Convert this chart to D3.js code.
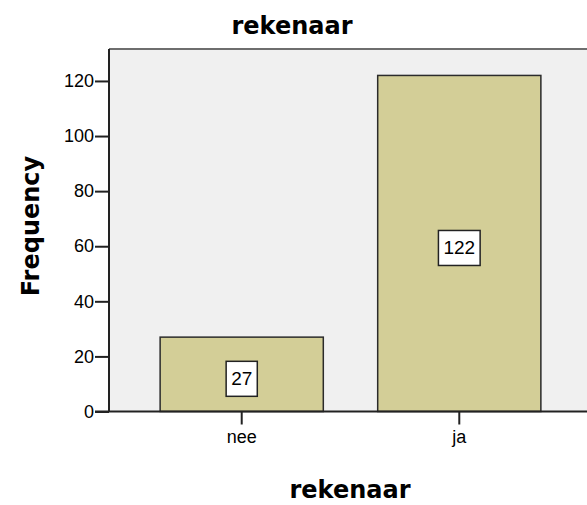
<!DOCTYPE html>
<html>
<head>
<meta charset="utf-8">
<script src="https://cdn.jsdelivr.net/npm/d3@7"></script>
<style>
  html, body { margin: 0; padding: 0; background: #fff; }
  svg { display: block; }
</style>
</head>
<body>
<svg id="chart" width="587" height="505"></svg>
<script>
// ---- data ----
const categories = ["nee", "ja"];
const frequencies = [27, 122];
const yTicks = [0, 20, 40, 60, 80, 100, 120];
const chartTitle = "rekenaar";
const xTitle = "rekenaar";
const yTitle = "Frequency";

// ---- layout ----
const W = 587, H = 505;
const plot = { left: 109, right: 592, top: 49, bottom: 411.5 };
const svg = d3.select("#chart");

const x = d3.scaleBand()
  .domain(categories)
  .range([plot.left, plot.right])
  .paddingInner(0.25)
  .paddingOuter(0.235);

const y = d3.scaleLinear()
  .domain([0, 131.6])
  .range([plot.bottom, plot.top]);

// plot background
svg.append("rect")
  .attr("x", plot.left).attr("y", plot.top)
  .attr("width", plot.right - plot.left).attr("height", plot.bottom - plot.top)
  .attr("fill", "#f0f0f0");

// top frame line
svg.append("line")
  .attr("x1", plot.left).attr("x2", plot.right)
  .attr("y1", plot.top).attr("y2", plot.top)
  .attr("stroke", "#6e6e6e").attr("stroke-width", 2);

// bars
svg.append("g").selectAll("rect")
  .data(categories)
  .join("rect")
  .attr("x", d => x(d))
  .attr("y", (d, i) => y(frequencies[i]))
  .attr("width", x.bandwidth())
  .attr("height", (d, i) => y(0) - y(frequencies[i]))
  .attr("fill", "#d3ce97")
  .attr("stroke", "#2b2b2b")
  .attr("stroke-width", 1.5);

// value labels
const lab = svg.append("g").selectAll("g")
  .data(categories)
  .join("g")
  .attr("transform", (d, i) => `translate(${x(d) + x.bandwidth() / 2},${(y(frequencies[i]) + y(0)) / 2 + 4})`);
lab.each(function(d, i) {
  const g = d3.select(this);
  const t = g.append("text")
    .attr("text-anchor", "middle")
    .attr("dy", "0.36em")
    .attr("font-family", "Liberation Sans, Arial, sans-serif")
    .attr("font-size", 19)
    .attr("fill", "#000")
    .text(frequencies[i]);
  const bb = t.node().getBBox();
  g.insert("rect", "text")
    .attr("x", -bb.width / 2 - 5).attr("y", -17)
    .attr("width", bb.width + 10).attr("height", 35)
    .attr("fill", "#fff").attr("stroke", "#222").attr("stroke-width", 1.5);
});

// y axis
const yAxis = svg.append("g")
  .attr("transform", `translate(${plot.left},0)`)
  .call(d3.axisLeft(y).tickValues(yTicks).tickSize(14).tickSizeOuter(0).tickPadding(1));
yAxis.select(".domain").attr("stroke", "#222").attr("stroke-width", 2)
  .attr("d", `M0,${plot.top}V${plot.bottom}`);
yAxis.selectAll(".tick line").attr("stroke", "#222").attr("stroke-width", 2);
yAxis.selectAll(".tick text")
  .attr("font-family", "Liberation Sans, Arial, sans-serif")
  .attr("font-size", 18).attr("fill", "#000");

// x axis
const xAxis = svg.append("g")
  .attr("transform", `translate(0,${plot.bottom})`)
  .call(d3.axisBottom(x).tickSize(13).tickSizeOuter(0).tickPadding(6));
xAxis.select(".domain").attr("stroke", "#222").attr("stroke-width", 2)
  .attr("d", `M${plot.left - 14},0H${plot.right}`);
xAxis.selectAll(".tick line").attr("stroke", "#222").attr("stroke-width", 2);
xAxis.selectAll(".tick text")
  .attr("font-family", "Liberation Sans, Arial, sans-serif")
  .attr("font-size", 18).attr("fill", "#000");

// titles
const boldFont = "DejaVu Sans, Verdana, sans-serif";
svg.append("text")
  .attr("x", 292).attr("y", 34)
  .attr("text-anchor", "middle")
  .attr("font-family", boldFont).attr("font-weight", "bold").attr("font-size", 24)
  .text(chartTitle);

svg.append("text")
  .attr("x", 350).attr("y", 498)
  .attr("text-anchor", "middle")
  .attr("font-family", boldFont).attr("font-weight", "bold").attr("font-size", 24)
  .text(xTitle);

svg.append("text")
  .attr("transform", "translate(39,226) rotate(-90)")
  .attr("text-anchor", "middle")
  .attr("font-family", boldFont).attr("font-weight", "bold").attr("font-size", 24)
  .text(yTitle);
</script>
</body>
</html>
